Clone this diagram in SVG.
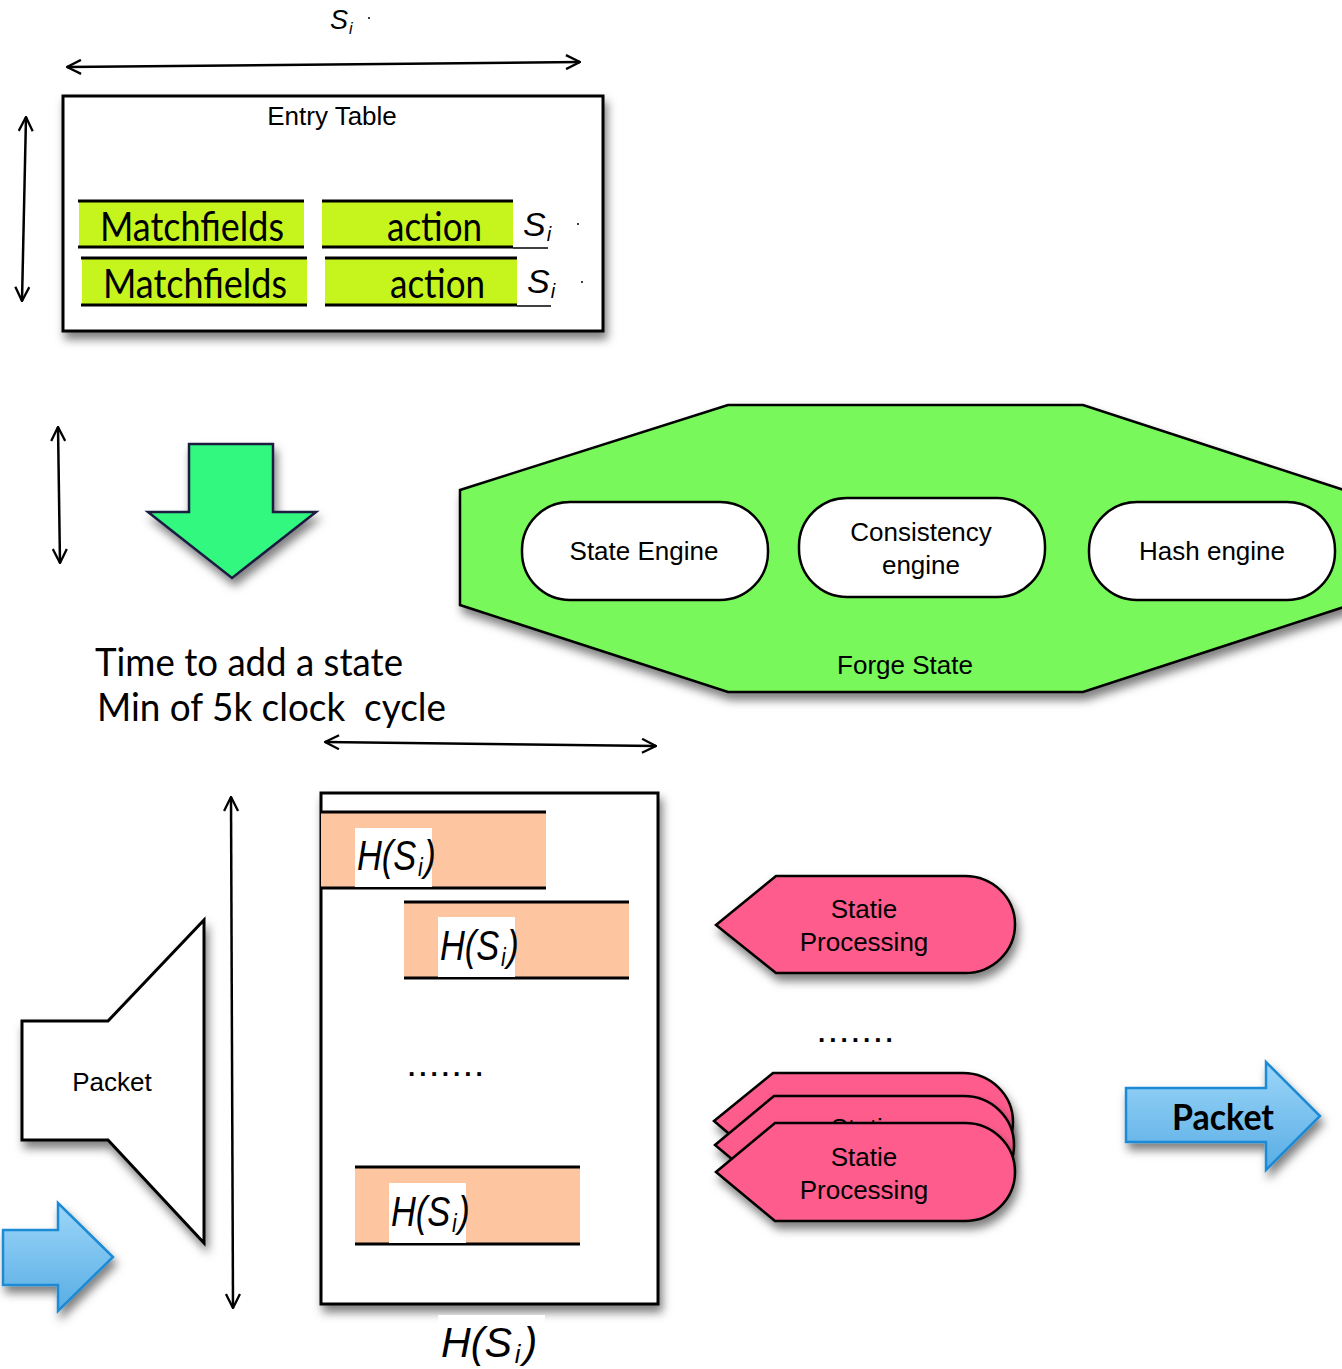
<svg xmlns="http://www.w3.org/2000/svg" width="1342" height="1369" viewBox="0 0 1342 1369">
<defs>
<style>
.helv{font-family:"Liberation Sans",Arial,sans-serif;fill:#000}
.fut{font-family:Lato,"Liberation Sans",sans-serif;fill:#000}
.math{font-family:"Liberation Sans",Arial,sans-serif;font-style:italic;fill:#000}
.dots{font-family:"Liberation Sans",Arial,sans-serif;font-weight:bold;fill:#000}
.arr{stroke:#000;stroke-width:2.5;fill:none}
.bar{fill:#fdc6a0}
.green{fill:#c6f51d}
.rule{stroke:#000;stroke-width:3}
.thin{stroke:#000;stroke-width:1.3}
.pink{fill:#fe5b8c;stroke:#000;stroke-width:2.5}
.pill{fill:#fff;stroke:#000;stroke-width:2.5}
.blue{fill:url(#bg);stroke:#1a8ad4;stroke-width:2.5}
</style>
<marker id="ah" viewBox="0 0 16 16" refX="15" refY="8" markerWidth="16" markerHeight="16" markerUnits="userSpaceOnUse" orient="auto-start-reverse">
<path d="M1,1 L15,8 L1,15" fill="none" stroke="#000" stroke-width="2.3"/>
</marker>
<filter id="sh" x="-20%" y="-20%" width="140%" height="150%">
<feDropShadow dx="3" dy="7" stdDeviation="5" flood-color="#000" flood-opacity="0.5"/>
</filter>
<linearGradient id="bg" x1="0" y1="0" x2="0" y2="1">
<stop offset="0" stop-color="#9cd6f9"/>
<stop offset="1" stop-color="#58ade4"/>
</linearGradient>
</defs>
<rect width="1342" height="1369" fill="#fff"/>

<g id="connectors">
<line class="arr" x1="67" y1="67" x2="580" y2="62" marker-start="url(#ah)" marker-end="url(#ah)"/>
<line class="arr" x1="26" y1="117" x2="22" y2="301" marker-start="url(#ah)" marker-end="url(#ah)"/>
<line class="arr" x1="58" y1="427" x2="60" y2="563" marker-start="url(#ah)" marker-end="url(#ah)"/>
<line class="arr" x1="325" y1="742" x2="656" y2="746" marker-start="url(#ah)" marker-end="url(#ah)"/>
<line class="arr" x1="231" y1="797" x2="233" y2="1308" marker-start="url(#ah)" marker-end="url(#ah)"/>
</g>

<g id="top-label">
<text class="math" x="330" y="29" font-size="27">S<tspan font-size="16" dx="1" dy="5">i</tspan></text>
<circle cx="369" cy="18" r="1" fill="#000"/>
</g>

<g id="entry-table">
<rect x="63" y="96" width="540" height="235" fill="#fff" stroke="#000" stroke-width="3" filter="url(#sh)"/>
<text class="helv" x="332" y="125" font-size="26" text-anchor="middle">Entry Table</text>
<g id="row1">
<rect class="green" x="79" y="201" width="225" height="46"/>
<line class="rule" x1="78" y1="201" x2="304" y2="201"/>
<line class="rule" x1="78" y1="247" x2="304" y2="247"/>
<text class="fut" x="100" y="241" font-size="40" textLength="184" lengthAdjust="spacingAndGlyphs">Matchfields</text>
<rect class="green" x="322" y="201" width="191" height="46"/>
<line class="rule" x1="322" y1="201" x2="513" y2="201"/>
<line class="rule" x1="322" y1="247" x2="513" y2="247"/>
<line class="thin" x1="513" y1="248" x2="548" y2="248"/>
<text class="fut" x="387" y="241" font-size="40" textLength="95" lengthAdjust="spacingAndGlyphs">action</text>
<text class="math" x="523" y="236" font-size="34">S<tspan font-size="20" dx="1" dy="5">i</tspan></text>
<circle cx="578" cy="224" r="1" fill="#000"/>
</g>
<g id="row2">
<rect class="green" x="82" y="258" width="225" height="47"/>
<line class="rule" x1="81" y1="258" x2="307" y2="258"/>
<line class="rule" x1="81" y1="305" x2="307" y2="305"/>
<text class="fut" x="103" y="298" font-size="40" textLength="184" lengthAdjust="spacingAndGlyphs">Matchfields</text>
<rect class="green" x="325" y="258" width="192" height="47"/>
<line class="rule" x1="325" y1="258" x2="517" y2="258"/>
<line class="rule" x1="325" y1="305" x2="517" y2="305"/>
<line class="thin" x1="517" y1="306" x2="551" y2="306"/>
<text class="fut" x="390" y="298" font-size="40" textLength="95" lengthAdjust="spacingAndGlyphs">action</text>
<text class="math" x="527" y="293" font-size="34">S<tspan font-size="20" dx="1" dy="5">i</tspan></text>
<circle cx="582" cy="282" r="1" fill="#000"/>
</g>
</g>

<g id="down-arrow">
<path d="M189,444 L273,444 L273,512 L316,512 L232,578 L148,512 L189,512 Z" fill="#30f880" stroke="#1a1a40" stroke-width="2.5" stroke-linejoin="miter" filter="url(#sh)"/>
</g>

<g id="time-label">
<text class="fut" x="95" y="676" font-size="38" textLength="308" lengthAdjust="spacingAndGlyphs">Time to add a state</text>
<text class="fut" x="97" y="721" font-size="38" textLength="349" lengthAdjust="spacingAndGlyphs" xml:space="preserve">Min of 5k clock  cycle</text>
</g>

<g id="forge-state">
<path d="M460,490 L728,405 L1083,405 L1350,492 L1350,605 L1083,692 L728,692 L460,605 Z" fill="#78f85a" stroke="#000" stroke-width="2.5" filter="url(#sh)"/>
<text class="helv" x="905" y="674" font-size="26" text-anchor="middle">Forge State</text>
<g id="state-engine">
<rect class="pill" x="522" y="502" width="246" height="98" rx="48" ry="48"/>
<text class="helv" x="644" y="560" font-size="26" text-anchor="middle">State Engine</text>
</g>
<g id="consistency-engine">
<rect class="pill" x="799" y="498" width="246" height="99" rx="48" ry="48"/>
<text class="helv" x="921" y="541" font-size="26" text-anchor="middle">Consistency</text>
<text class="helv" x="921" y="574" font-size="26" text-anchor="middle">engine</text>
</g>
<g id="hash-engine">
<rect class="pill" x="1089" y="502" width="246" height="98" rx="48" ry="48"/>
<text class="helv" x="1212" y="560" font-size="26" text-anchor="middle">Hash engine</text>
</g>
</g>

<g id="hash-table">
<rect x="321" y="793" width="337" height="511" fill="#fff" stroke="#000" stroke-width="3" filter="url(#sh)"/>
<g id="bar1">
<rect class="bar" x="321" y="812" width="225" height="76"/>
<line class="rule" x1="321" y1="812" x2="546" y2="812"/>
<line class="rule" x1="321" y1="888" x2="546" y2="888"/>
<rect x="355" y="828" width="77" height="59" fill="#fff"/>
<text class="math" transform="translate(357,870) scale(0.82,1)" font-size="42">H(S<tspan font-size="26" dx="2" dy="6">i</tspan><tspan dx="2" dy="-6">)</tspan></text>
</g>
<g id="bar2">
<rect class="bar" x="404" y="902" width="225" height="76"/>
<line class="rule" x1="404" y1="902" x2="629" y2="902"/>
<line class="rule" x1="404" y1="978" x2="629" y2="978"/>
<rect x="438" y="917" width="77" height="60" fill="#fff"/>
<text class="math" transform="translate(440,960) scale(0.82,1)" font-size="42">H(S<tspan font-size="26" dx="2" dy="6">i</tspan><tspan dx="2" dy="-6">)</tspan></text>
</g>
<text class="dots" x="408" y="1083" font-size="26" letter-spacing="2.6">·······</text>
<g id="bar3">
<rect class="bar" x="355" y="1167" width="225" height="77"/>
<line class="rule" x1="355" y1="1167" x2="580" y2="1167"/>
<line class="rule" x1="355" y1="1244" x2="580" y2="1244"/>
<rect x="389" y="1183" width="77" height="60" fill="#fff"/>
<text class="math" transform="translate(391,1226) scale(0.82,1)" font-size="42">H(S<tspan font-size="26" dx="2" dy="6">i</tspan><tspan dx="2" dy="-6">)</tspan></text>
</g>
</g>

<g id="hash-label">
<rect x="438" y="1315" width="107" height="54" fill="#fff"/>
<text class="math" transform="translate(441,1357) scale(0.98,1)" font-size="42">H(S<tspan font-size="26" dx="3" dy="6">i</tspan><tspan dx="3" dy="-6">)</tspan></text>
</g>

<g id="packet-in">
<path d="M22,1021 L108,1021 L204,920 L204,1243 L108,1140 L22,1140 Z" fill="#fff" stroke="#000" stroke-width="3" filter="url(#sh)"/>
<text class="helv" x="112" y="1091" font-size="26" text-anchor="middle">Packet</text>
</g>

<g id="blue-arrow-left">
<path class="blue" d="M3,1230 L58,1230 L58,1203 L113,1257 L58,1311 L58,1285 L3,1285 Z" filter="url(#sh)"/>
</g>

<g id="statie-1">
<path class="pink" d="M716,925 L776,876 L965,876 A50,48.5 0 0 1 965,973 L776,973 Z" filter="url(#sh)"/>
<text class="helv" x="864" y="918" font-size="26" text-anchor="middle">Statie</text>
<text class="helv" x="864" y="951" font-size="26" text-anchor="middle">Processing</text>
</g>

<g id="dots-mid">
<text class="dots" x="818" y="1049" font-size="26" letter-spacing="2.6">·······</text>
</g>

<g id="statie-stack">
<g id="statie-back1">
<path class="pink" d="M714,1121 L773,1073 L963,1073 A50,49 0 0 1 963,1171 L773,1171 Z" filter="url(#sh)"/>
<text class="helv" x="862" y="1115" font-size="26" text-anchor="middle">Statie</text>
</g>
<g id="statie-back2">
<path class="pink" d="M715,1145 L774,1096 L964,1096 A50,49 0 0 1 964,1194 L774,1194 Z" filter="url(#sh)"/>
<text class="helv" x="864" y="1137" font-size="26" text-anchor="middle">Statie</text>
</g>
<g id="statie-front">
<path class="pink" d="M716,1172 L775,1123 L965,1123 A50,49 0 0 1 965,1221 L775,1221 Z" filter="url(#sh)"/>
<text class="helv" x="864" y="1166" font-size="26" text-anchor="middle">Statie</text>
<text class="helv" x="864" y="1199" font-size="26" text-anchor="middle">Processing</text>
</g>
</g>

<g id="packet-out">
<path class="blue" d="M1126,1088 L1266,1088 L1266,1062 L1320,1116 L1266,1170 L1266,1142 L1126,1142 Z" filter="url(#sh)"/>
<text class="fut" x="1172" y="1130" font-size="37" font-weight="bold" textLength="102" lengthAdjust="spacingAndGlyphs">Packet</text>
</g>
</svg>
